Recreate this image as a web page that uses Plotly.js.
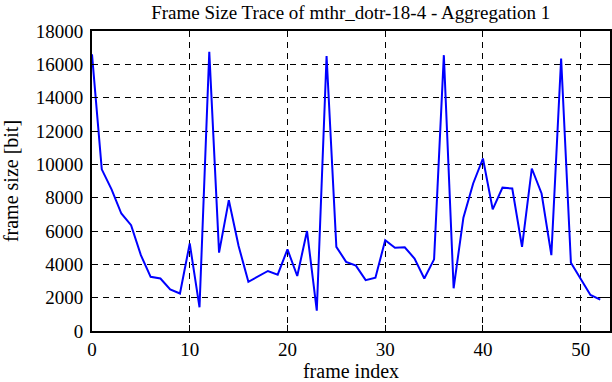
<!DOCTYPE html>
<html>
<head>
<meta charset="utf-8">
<script src="https://cdn.plot.ly/plotly-3.0.1.min.js"></script>
<style>html,body{margin:0;padding:0;background:#fff;}#chart{width:612px;height:382px;}</style>
</head>
<body>
<div id="chart"></div>
<script>
var frameIndex = [0,1,2,3,4,5,6,7,8,9,10,11,12,13,14,15,16,17,18,19,20,21,22,23,24,25,26,27,28,29,30,31,32,33,34,35,36,37,38,39,40,41,42,43,44,45,46,47,48,49,50,51,52];
var frameSize = [16600,9700,8500,7050,6350,4550,3250,3150,2500,2250,5250,1420,16750,4700,7850,5100,2950,3250,3600,3380,4900,3300,6000,1220,16500,5050,4150,3920,3050,3200,5450,5000,5020,4350,3150,4300,16550,2560,6800,8850,10350,7300,8600,8550,5050,9750,8250,4550,16350,4100,3150,2160,1880];

var serif = 'Liberation Serif';
function mkFont(s) { return {family: serif, size: s || 19, color: '#000'}; }

var trace = {
  x: frameIndex, y: frameSize, type: 'scatter', mode: 'lines',
  line: {color: '#0000ff', width: 2}, showlegend: false, hoverinfo: 'skip'
};

function axis(extra) {
  var a = {
    showline: true, linecolor: '#000', linewidth: 2, mirror: 'ticks',
    ticks: 'inside', ticklen: 6, tickwidth: 1, tickcolor: '#000',
    showgrid: true, gridcolor: '#000', gridwidth: 1, griddash: '6px,5px',
    zeroline: false, tickfont: mkFont(19), exponentformat: 'none', separatethousands: false
  };
  for (var k in extra) a[k] = extra[k];
  return a;
}

var layout = {
  width: 612, height: 382,
  margin: {l: 92, r: 2, t: 31, b: 51},
  paper_bgcolor: '#fff', plot_bgcolor: '#fff',
  font: mkFont(19),
  title: {text: 'Frame Size Trace of mthr_dotr-18-4 - Aggregation 1', font: mkFont(19), x: 0.573, xanchor: 'center', y: 0.968, yanchor: 'middle'},
  xaxis: axis({range: [0, 53], dtick: 10, tick0: 0,
    title: {text: 'frame index', font: mkFont(20), standoff: 7}}),
  yaxis: axis({range: [0, 18000], dtick: 2000, tick0: 0, tickformat: 'd', ticklabelstandoff: 3,
    title: {text: 'frame size [bit]', font: mkFont(20), standoff: 18}})
};

Plotly.newPlot('chart', [trace], layout, {staticPlot: true, displayModeBar: false});
</script>
</body>
</html>
